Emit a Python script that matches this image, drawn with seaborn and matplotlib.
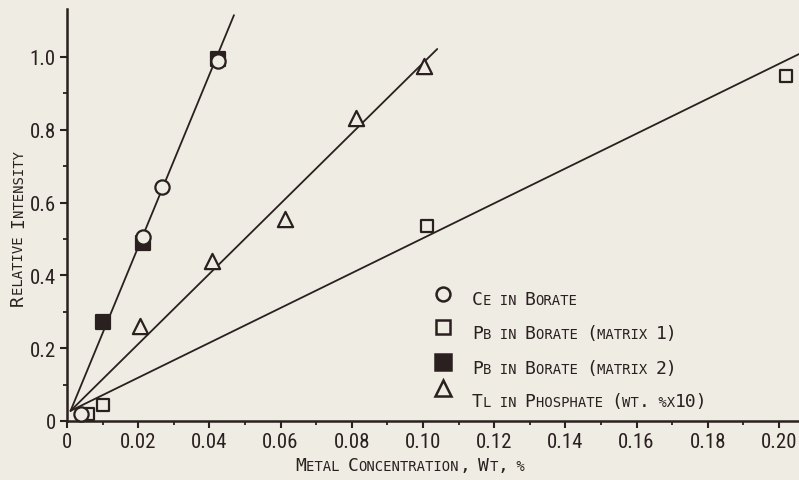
import matplotlib
matplotlib.use("Agg")
import matplotlib.pyplot as plt
from matplotlib import font_manager as fm
from matplotlib.lines import Line2D
import seaborn as sns
import pandas as pd

# ---- data -----------------------------------------------------------------
ce_conc = [0.004, 0.0213, 0.0267, 0.0424]
ce_int = [0.02, 0.505, 0.643, 0.989]

pb1_conc = [0.006, 0.0101, 0.101, 0.202]
pb1_int = [0.02, 0.044, 0.536, 0.948]

pb2_conc = [0.0101, 0.0213, 0.0424]
pb2_int = [0.272, 0.49, 0.995]

tl_conc = [0.0205, 0.0407, 0.0612, 0.0812, 0.1003]
tl_int = [0.26, 0.44, 0.555, 0.832, 0.975]

# calibration lines (start, end) in concentration / intensity
fit_x0, fit_y0 = 0.001, 0.028
ce_fit_end = (0.0469, 1.115)
tl_fit_end = (0.104, 1.022)
pb1_fit_end = (0.2056, 1.008)

x_ticks = [0, 0.02, 0.04, 0.06, 0.08, 0.10, 0.12, 0.14, 0.16, 0.18, 0.20]
x_tick_labels = ["0", "0.02", "0.04", "0.06", "0.08", "0.10",
                 "0.12", "0.14", "0.16", "0.18", "0.20"]
x_minor = [0.01, 0.03, 0.05, 0.07, 0.09, 0.11, 0.13, 0.15, 0.17, 0.19]
y_ticks = [0, 0.2, 0.4, 0.6, 0.8, 1.0]
y_tick_labels = ["0", "0.2", "0.4", "0.6", "0.8", "1.0"]
y_minor = [0.1, 0.3, 0.5, 0.7, 0.9]

legend_labels = ["Ce in Borate", "Pb in Borate (matrix 1)",
                 "Pb in Borate (matrix 2)", "Tl in Phosphate (wt. %x10)"]
x_label = "Metal Concentration, Wt, %"
y_label = "Relative Intensity"

# ---- style ----------------------------------------------------------------
PAPER = "#efece3"
INK = "#2a2020"
W_PX, H_PX = 799, 481

sns.set_style("ticks", {"axes.facecolor": PAPER, "figure.facecolor": PAPER})

names = {f.name for f in fm.fontManager.ttflist}
TICK_FONT = "DejaVu Sans"
TICK_STRETCH = "normal"
for cand in ["Liberation Sans Narrow", "DejaVu Sans Condensed", "Roboto Condensed"]:
    if cand in names:
        TICK_FONT = cand
        break
else:
    if any(f.name == "DejaVu Sans" and f.stretch == "condensed" for f in fm.fontManager.ttflist):
        TICK_STRETCH = "condensed"
    elif "Roboto" in names:
        TICK_FONT = "Roboto"
LABEL_FONT = "DejaVu Sans Mono"

fig = plt.figure(figsize=(W_PX / 100, H_PX / 100), dpi=100)
ax = fig.add_axes([67 / W_PX, (H_PX - 422) / H_PX, (W_PX - 67) / W_PX, 412 / H_PX])
ax.set_facecolor(PAPER)

# ---- fit lines ------------------------------------------------------------
for end in (ce_fit_end, tl_fit_end, pb1_fit_end):
    sns.lineplot(x=[fit_x0, end[0]], y=[fit_y0, end[1]], ax=ax, color=INK,
                 linewidth=1.3, zorder=1, estimator=None, sort=False)

# ---- markers --------------------------------------------------------------
common = dict(ax=ax, linewidth=1.6, edgecolor=INK, clip_on=False, legend=False)
sns.scatterplot(x=pb2_conc, y=pb2_int, marker="s", s=95, color=INK, zorder=3, **common)
sns.scatterplot(x=pb1_conc, y=pb1_int, marker="s", s=85, color=PAPER, zorder=3, **common)
sns.scatterplot(x=ce_conc, y=ce_int, marker="o", s=105, color=PAPER, zorder=4, **common)
sns.scatterplot(x=tl_conc, y=tl_int, marker="^", s=120, color=PAPER, zorder=4, **common)

# ---- axes -----------------------------------------------------------------
ax.set_xlim(0, (W_PX - 67) / 3560)
ax.set_ylim(0, 412 / 364)
sns.despine(ax=ax)
for side in ("left", "bottom"):
    ax.spines[side].set_linewidth(1.8)
    ax.spines[side].set_color(INK)

ax.set_xticks(x_ticks, labels=x_tick_labels)
ax.set_xticks(x_minor, minor=True)
ax.set_yticks(y_ticks, labels=y_tick_labels)
ax.set_yticks(y_minor, minor=True)
ax.tick_params(which="major", direction="out", length=5, width=1.5,
               color=INK, labelcolor=INK, labelsize=15, pad=3)
ax.tick_params(which="minor", direction="out", length=3, width=1.3, color=INK)
for lab in ax.get_xticklabels() + ax.get_yticklabels():
    lab.set_family(TICK_FONT)
    lab.set_stretch(TICK_STRETCH)
ax.set_xlabel("")
ax.set_ylabel("")

# ---- small-capital lettering ---------------------------------------------
renderer = fig.canvas.get_renderer()


def run_width(s, size):
    a = fig.text(0, 0, "|" + s + "|", fontsize=size, family=LABEL_FONT)
    b = fig.text(0, 0, "||", fontsize=size, family=LABEL_FONT)
    w = a.get_window_extent(renderer).width - b.get_window_extent(renderer).width
    a.remove()
    b.remove()
    return w


def small_caps(x, y, text, big=13, small=10, rotation=0, ha="left"):
    """Write text at pixel (x, y from top) with lowercase set as small capitals."""
    runs = []
    for ch in text:
        size = small if (ch.islower() or ch in " %") else big
        if runs and runs[-1][1] == size:
            runs[-1][0] += ch.upper()
        else:
            runs.append([ch.upper(), size])
    widths = [run_width(s, size) for s, size in runs]
    total = sum(widths)
    offset = -total / 2 if ha == "center" else 0
    for (s, size), w in zip(runs, widths):
        if rotation == 90:
            px, py = x, y - offset
        else:
            px, py = x + offset, y
        fig.text(px / W_PX, 1 - py / H_PX, s, fontsize=size, family=LABEL_FONT,
                 color=INK, rotation=rotation, rotation_mode="anchor",
                 ha="left", va="baseline")
        offset += w


small_caps(410, 471, x_label, ha="center")
small_caps(23, 228, y_label, rotation=90, ha="center")

# ---- legend ---------------------------------------------------------------
leg_marks = [
    dict(marker="o", markersize=10, markerfacecolor=PAPER),
    dict(marker="s", markersize=10, markerfacecolor=PAPER),
    dict(marker="s", markersize=11, markerfacecolor=INK),
    dict(marker="^", markersize=11, markerfacecolor=PAPER),
]
leg_mark_y = [295, 328, 363, 389]
leg_text_y = [305, 339, 374, 407]
for spec, my, ty, label in zip(leg_marks, leg_mark_y, leg_text_y, legend_labels):
    fig.add_artist(Line2D([443 / W_PX], [1 - my / H_PX], transform=fig.transFigure,
                          linestyle="none", markeredgecolor=INK,
                          markeredgewidth=1.8, **spec))
    small_caps(472, ty, label)

fig.savefig("out.png", dpi=100, facecolor=PAPER)
